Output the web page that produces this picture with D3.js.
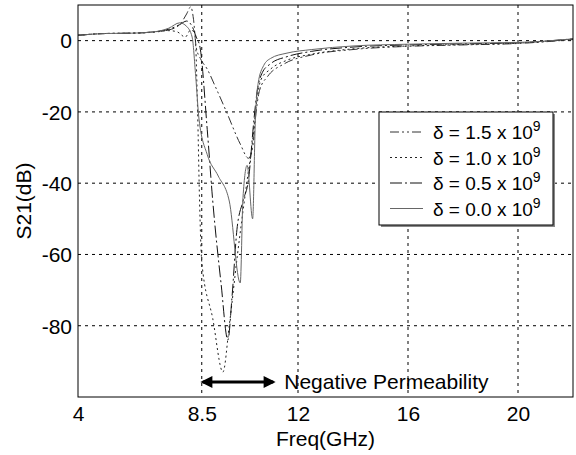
<!DOCTYPE html>
<html><head><meta charset="utf-8">
<script src="https://cdn.jsdelivr.net/npm/d3@7"></script>
<style>body{margin:0;background:#fff}svg{display:block}text{font-family:"Liberation Sans",Arial,sans-serif;fill:#000}</style>
</head><body>
<svg id="c" width="576" height="455"></svg>
<script>
// ---- data ----
const xTicks = [4, 8.5, 12, 16, 20];
const yTicks = [0, -20, -40, -60, -80];
const seriesNames = ["1.5", "1.0", "0.5", "0.0"];

const freq15 = [4, 5, 6, 6.8, 7.3, 7.7, 7.95, 8.1, 8.2, 8.3, 8.45, 8.7, 9.0, 9.4, 9.9, 10.2, 10.35, 10.45, 10.6, 10.9, 11.5, 12.5, 14, 16, 18, 20, 22];
const s21_15  = [1.5, 2.0, 2.1, 2.5, 3.0, 4.5, 7.5, 9.5, 6, -2, -5, -8, -13, -20, -29, -33, -30, -22, -14, -10, -6.5, -4, -2.5, -1.6, -1.2, -0.8, 0.3];

const freq10 = [4, 5, 6, 6.8, 7.3, 7.6, 7.9, 8.1, 8.25, 8.35, 8.42, 8.5, 8.9, 9.27, 9.5, 9.8, 10.1, 10.35, 10.5, 10.65, 11, 11.6, 12.5, 14, 16, 18, 20, 22];
const s21_10  = [1.5, 2.0, 2.1, 2.4, 2.8, 2.5, 1.0, 3.0, 2, -20, -45, -62, -78, -93, -80, -60, -42, -28, -17, -11, -8, -5.5, -3.8, -2.3, -1.5, -1.1, -0.7, 0.4];

const freq05 = [4, 5, 6, 6.8, 7.3, 7.7, 7.95, 8.15, 8.3, 8.44, 8.7, 8.9, 9.2, 9.45, 9.6, 9.78, 10.0, 10.2, 10.4, 10.5, 10.7, 11, 11.6, 12.5, 14, 16, 18, 20, 22];
const s21_05  = [1.5, 2.0, 2.1, 2.5, 3.2, 4.5, 5.5, 4, 1, -2, -25, -45, -68, -84, -72, -53, -45, -39, -22, -15, -9, -6.5, -4.5, -3, -1.8, -1.2, -0.9, -0.6, 0.5];

const freq00 = [4, 5, 6, 6.8, 7.3, 7.7, 7.95, 8.15, 8.28, 8.4, 8.7, 9.1, 9.5, 9.9, 10.0, 10.15, 10.35, 10.45, 10.55, 10.75, 11, 11.6, 12.5, 14, 16, 18, 20, 22];
const s21_00  = [1.5, 2.0, 2.1, 2.5, 3.5, 5, 4, 1, -10, -22, -32, -38, -45, -68, -44, -35, -50, -22, -12, -7, -5, -3.5, -2.5, -1.5, -1, -0.7, -0.5, 0.5];

const bandStart = 8.5, bandEnd = 11.1;
// ----------------

const svg = d3.select("#c");
const L = 78, R = 573, T = 5, B = 397;
const x = d3.scaleLinear().domain([4, 22]).range([L, R]);
const y = d3.scaleLinear().domain([-100, 10]).range([B, T]);

svg.append("defs").append("clipPath").attr("id","clip")
  .append("rect").attr("x",L).attr("y",T).attr("width",R-L).attr("height",B-T);

// grid
const g = svg.append("g");
g.selectAll(".vg").data(xTicks.slice(1)).join("line")
  .attr("x1",d=>x(d)).attr("x2",d=>x(d)).attr("y1",T).attr("y2",B)
  .attr("stroke","#000").attr("stroke-width",1).attr("stroke-dasharray","3,4");
g.selectAll(".hg").data(yTicks).join("line")
  .attr("y1",d=>y(d)).attr("y2",d=>y(d)).attr("x1",L).attr("x2",R)
  .attr("stroke","#000").attr("stroke-width",1).attr("stroke-dasharray","3,4");

// axes
const xAxis = d3.axisBottom(x).tickValues(xTicks).tickSize(0).tickPadding(9).tickFormat(d=>String(d));
const yAxis = d3.axisLeft(y).tickValues(yTicks).tickSize(0).tickPadding(6).tickFormat(d=>String(d));
const gx = svg.append("g").attr("transform",`translate(0,${B})`).call(xAxis);
const gy = svg.append("g").attr("transform",`translate(${L},0)`).call(yAxis);
[gx,gy].forEach(a=>{a.select(".domain").remove(); a.selectAll("text").style("font-size","21px").style("font-family","Liberation Sans, Arial, sans-serif").attr("fill","#000");});
gx.selectAll("text").attr("dy","0.71em");
gy.selectAll("text").attr("dy","0.35em");

// series
const series = [
  {name:"1.5", f:freq15, v:s21_15, dash:"9,3,2,3,2,3", color:"#333", w:1},
  {name:"1.0", f:freq10, v:s21_10, dash:"2,3", color:"#222", w:1},
  {name:"0.5", f:freq05, v:s21_05, dash:"12,3,2,3", color:"#111", w:1},
  {name:"0.0", f:freq00, v:s21_00, dash:null, color:"#666", w:1}
];
const line = d3.line().x(d=>x(d[0])).y(d=>y(d[1])).curve(d3.curveMonotoneX);
const pg = svg.append("g").attr("clip-path","url(#clip)");
series.forEach(s=>{
  pg.append("path").datum(d3.zip(s.f, s.v)).attr("d",line)
    .attr("fill","none").attr("stroke",s.color).attr("stroke-width",s.w)
    .attr("stroke-dasharray",s.dash);
});

// box
svg.append("rect").attr("x",L).attr("y",T).attr("width",R-L).attr("height",B-T)
  .attr("fill","none").attr("stroke","#000").attr("stroke-width",1);

// labels
svg.append("text").attr("x",(L+R)/2).attr("y",446).attr("text-anchor","middle")
  .style("font-size","21px").text("Freq(GHz)");
svg.append("text").attr("transform",`translate(31,${(T+B)/2}) rotate(-90)`).attr("text-anchor","middle")
  .style("font-size","21px").text("S21(dB)");

// arrow
const defs = svg.select("defs");
defs.append("marker").attr("id","ah").attr("viewBox","0 0 10 10").attr("refX",8).attr("refY",5)
  .attr("markerWidth",5).attr("markerHeight",4).attr("orient","auto-start-reverse")
  .append("path").attr("d","M0,0L10,5L0,10z").attr("fill","#000");
const ay = 382;
svg.append("line").attr("x1",x(bandStart)+1).attr("x2",x(bandEnd)).attr("y1",ay).attr("y2",ay)
  .attr("stroke","#000").attr("stroke-width",3)
  .attr("marker-start","url(#ah)").attr("marker-end","url(#ah)");
svg.append("text").attr("x",x(bandEnd)+11).attr("y",ay+7).style("font-size","21px").text("Negative Permeability");

// legend
const lg = svg.append("g");
lg.append("rect").attr("x",381).attr("y",114).attr("width",174).attr("height",113).attr("fill","#888");
lg.append("rect").attr("x",379).attr("y",112).attr("width",174).attr("height",113)
  .attr("fill","#fff").attr("stroke","#000").attr("stroke-width",1);
series.forEach((s,i)=>{
  const yy = 132 + i*25.5;
  lg.append("line").attr("x1",390).attr("x2",423).attr("y1",yy).attr("y2",yy)
    .attr("stroke",s.color).attr("stroke-width",1).attr("stroke-dasharray",s.dash);
  const t = lg.append("text").attr("x",433).attr("y",yy+7).style("font-size","19px");
  t.append("tspan").text(`δ = ${s.name} x 10`);
  t.append("tspan").attr("dy",-8).style("font-size","14px").text("9");
});
</script>
</body></html>
